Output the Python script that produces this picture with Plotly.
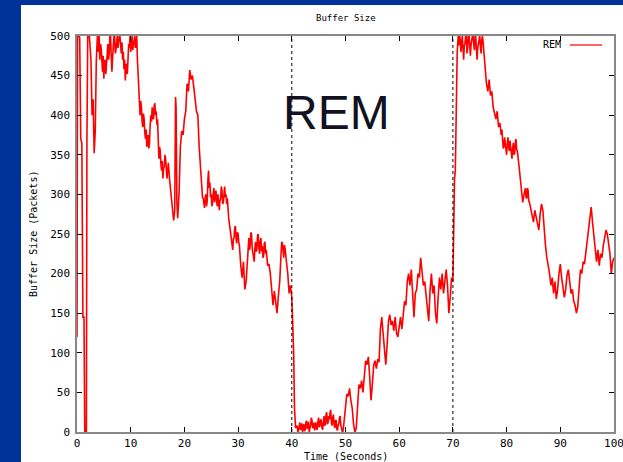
import plotly.graph_objects as go

# ---- data: (time [s], buffer size [packets]) ----
startup = [
    (0, 120), (0.1, 500), (0.3, 500), (0.5, 498), (0.7, 370), (0.9, 365), (1.1, 145), (1.3, 145),
    (1.45, 0), (1.55, 0), (1.75, 0), (1.85, 370), (2.0, 500), (2.3, 500), (2.6, 470), (2.8, 400),
    (3.0, 420), (3.2, 352), (3.4, 380), (3.6, 470), (3.8, 500),
]
plateau_1 = [
    (4.0, 480), (4.125, 500), (4.25, 470), (4.375, 490), (4.5, 485), (4.625, 462), (4.75, 455),
    (4.875, 475), (5.0, 446), (5.125, 468), (5.25, 470), (5.375, 452), (5.5, 462), (5.625, 480),
    (5.75, 490), (5.875, 470), (6.0, 478), (6.125, 500), (6.25, 500), (6.375, 475), (6.5, 455),
    (6.625, 472), (6.75, 488), (6.875, 500), (7.0, 500), (7.125, 478), (7.25, 482), (7.375, 500),
    (7.5, 500), (7.625, 485), (7.75, 493), (7.875, 500), (8.0, 500), (8.125, 488), (8.25, 478),
    (8.375, 492), (8.5, 470), (8.625, 480), (8.75, 458), (8.875, 470), (9.0, 444), (9.125, 462),
    (9.25, 465), (9.375, 452), (9.5, 472), (9.625, 490), (9.75, 485), (9.875, 500), (10.0, 480),
    (10.125, 495), (10.25, 500), (10.375, 482), (10.5, 488), (10.625, 500), (10.75, 500),
    (10.875, 485), (11.0, 492), (11.125, 500), (11.25, 470),
]
decline_1 = [
    (11.5, 435), (11.625, 412), (11.75, 400), (11.875, 418), (12.0, 410), (12.125, 392), (12.25, 385),
    (12.375, 402), (12.5, 395), (12.625, 378), (12.75, 370), (12.875, 382), (13.0, 360), (13.125, 372),
    (13.25, 375), (13.375, 358), (13.5, 365), (13.625, 388), (13.75, 400), (13.875, 392), (14.0, 410),
    (14.125, 398), (14.25, 395), (14.375, 412), (14.5, 415), (14.625, 400), (14.75, 405), (14.875, 388),
    (15.0, 395), (15.125, 370), (15.25, 345), (15.375, 360), (15.5, 355), (15.625, 338), (15.75, 330),
    (15.875, 342), (16.0, 320), (16.125, 332), (16.25, 335), (16.375, 350), (16.5, 345),
    (16.75, 320), (17.0, 340), (17.25, 318), (17.5, 300), (17.75, 275), (18.0, 267), (18.2, 280),
    (18.35, 423), (18.45, 410), (18.6, 290), (18.75, 270), (19.0, 300), (19.25, 360), (19.5, 380),
    (19.75, 375), (20.0, 395), (20.25, 405), (20.5, 440), (20.75, 430), (21.0, 457), (21.25, 445),
    (21.5, 450), (21.75, 430), (22.0, 420), (22.25, 405), (22.5, 400),
]
decline_2 = [
    (22.75, 360), (23.0, 330), (23.125, 318), (23.25, 310), (23.375, 296), (23.5, 295), (23.625, 286),
    (23.75, 283), (23.875, 296), (24.0, 300), (24.125, 285), (24.25, 292), (24.375, 318), (24.5, 330),
    (24.625, 308), (24.75, 315), (24.875, 296), (25.0, 300), (25.125, 285), (25.25, 290), (25.375, 302),
    (25.5, 308), (25.625, 290), (25.75, 295), (25.875, 305), (26.0, 292), (26.125, 285), (26.25, 300),
    (26.375, 288), (26.5, 280), (26.625, 292), (26.75, 295), (26.875, 310), (27.0, 305), (27.125, 288),
    (27.25, 290), (27.375, 300), (27.5, 310), (27.625, 296), (27.75, 300), (27.875, 288), (28.0, 295),
    (28.25, 270), (28.5, 255), (28.75, 240), (29.0, 230), (29.125, 244), (29.25, 245), (29.375, 258),
    (29.5, 260), (29.625, 244), (29.75, 238), (29.875, 252), (30.0, 250), (30.125, 240), (30.25, 235),
    (30.5, 210), (30.75, 195), (31.0, 215), (31.25, 180), (31.5, 190), (31.75, 220), (32.0, 245),
    (32.125, 230), (32.25, 235), (32.375, 252), (32.5, 250), (32.625, 232), (32.75, 225), (33.0, 215),
    (33.125, 232), (33.25, 240), (33.375, 228), (33.5, 230), (33.625, 248), (33.75, 250), (33.875, 232),
    (34.0, 225), (34.125, 240), (34.25, 245), (34.375, 228), (34.5, 235), (34.625, 220), (34.75, 222),
    (34.875, 238), (35.0, 240), (35.125, 225), (35.25, 230), (35.5, 210), (35.75, 212), (36.0, 200),
    (36.25, 175), (36.5, 160), (36.75, 178), (37.0, 165), (37.25, 150), (37.5, 172), (37.75, 190),
    (38.0, 225), (38.125, 240), (38.25, 238), (38.375, 222), (38.5, 220), (38.625, 236), (38.75, 232),
    (39.0, 215), (39.25, 200), (39.5, 175), (39.75, 185), (40.0, 170), (40.1, 145), (40.2, 140),
    (40.35, 100), (40.5, 30), (40.7, 5),
]
empty_queue = [
    (41.0, 8), (41.125, 0), (41.25, 2), (41.375, 9), (41.5, 12), (41.625, 3), (41.75, 4), (41.875, 11),
    (42.0, 0), (42.125, 6), (42.25, 10), (42.375, 1), (42.5, 3), (42.625, 12), (42.75, 14), (42.875, 4),
    (43.0, 5), (43.125, 13), (43.25, 0), (43.375, 5), (43.5, 8), (43.625, 18), (43.75, 15), (43.875, 5),
    (44.0, 6), (44.125, 12), (44.25, 2), (44.375, 8), (44.5, 12), (44.625, 3), (44.75, 4), (44.875, 14),
    (45.0, 18), (45.125, 6), (45.25, 8), (45.375, 16), (45.5, 14), (45.625, 5), (45.75, 3), (45.875, 12),
    (46.0, 20), (46.125, 8), (46.25, 10), (46.375, 22), (46.5, 25), (46.625, 10), (46.75, 12),
    (46.875, 20), (47.0, 16), (47.125, 24), (47.25, 28), (47.375, 12), (47.5, 8), (47.625, 18),
    (47.75, 22), (47.875, 10), (48.0, 5), (48.125, 14), (48.25, 15), (48.375, 4), (48.5, 2), (48.625, 9),
    (48.75, 10), (48.875, 18), (49.0, 20), (49.125, 8), (49.25, 6), (49.375, 1), (49.5, 0), (49.625, 6),
    (49.75, 15), (49.875, 25), (50.0, 35), (50.25, 48), (50.5, 45), (50.75, 55), (51.0, 40),
    (51.25, 30), (51.5, 10), (51.75, 0), (52.0, 5), (52.25, 40),
]
refill = [
    (52.5, 60), (52.75, 55), (53.0, 65), (53.25, 50), (53.5, 72), (53.75, 90), (54.0, 85), (54.25, 95),
    (54.5, 70), (54.75, 40), (55.0, 60), (55.25, 85), (55.5, 90), (55.75, 80), (56.0, 92), (56.25, 88),
    (56.5, 130), (56.75, 145), (57.0, 125), (57.25, 100), (57.5, 85), (57.75, 110), (58.0, 140),
    (58.25, 148), (58.5, 135), (58.75, 140), (59.0, 128), (59.25, 145), (59.5, 125), (59.75, 120),
    (60.0, 135), (60.25, 145), (60.5, 130), (60.75, 150), (61.0, 165), (61.25, 160), (61.5, 190),
    (61.75, 200), (62.0, 185), (62.25, 205), (62.5, 165), (62.75, 145), (63.0, 175), (63.25, 180),
    (63.5, 200), (63.75, 195), (64.0, 220), (64.25, 205), (64.5, 185), (64.75, 190), (65.0, 175),
    (65.25, 160), (65.5, 140), (65.75, 180), (66.0, 200), (66.25, 175), (66.5, 185), (66.75, 150),
    (67.0, 137), (67.25, 170), (67.5, 195), (67.75, 180), (68.0, 200), (68.25, 175), (68.5, 190),
    (68.75, 205), (69.0, 185), (69.25, 150), (69.5, 170), (69.75, 195), (70.0, 190), (70.1, 240),
    (70.2, 250), (70.3, 320), (70.45, 330), (70.6, 430), (70.8, 480),
]
plateau_2 = [
    (71.0, 500), (71.125, 488), (71.25, 500), (71.375, 495), (71.5, 480), (71.625, 500), (71.75, 500),
    (71.875, 485), (72.0, 470), (72.125, 488), (72.25, 490), (72.375, 500), (72.5, 500), (72.625, 478),
    (72.75, 485), (72.875, 500), (73.0, 500), (73.125, 490), (73.25, 475), (73.375, 488), (73.5, 495),
    (73.625, 500), (73.75, 500), (73.875, 488), (74.0, 482), (74.125, 500), (74.25, 500), (74.375, 484),
    (74.5, 470), (74.625, 485), (74.75, 490), (74.875, 500), (75.0, 500), (75.125, 486), (75.25, 478),
    (75.375, 495), (75.5, 500), (75.625, 492), (75.75, 480),
]
decline_3 = [
    (76.0, 455), (76.25, 440), (76.5, 430), (76.75, 445), (77.0, 425), (77.25, 430), (77.5, 410),
    (77.75, 400), (78.0, 395), (78.25, 405), (78.5, 385), (78.75, 390), (79.0, 375), (79.125, 382),
    (79.25, 370), (79.375, 358), (79.5, 360), (79.625, 372), (79.75, 365), (79.875, 352), (80.0, 350),
    (80.125, 364), (80.25, 372), (80.375, 360), (80.5, 355), (80.625, 368), (80.75, 360), (80.875, 348),
    (81.0, 345), (81.125, 358), (81.25, 365), (81.375, 350), (81.5, 352), (81.625, 366), (81.75, 370),
    (81.875, 356), (82.0, 355), (82.25, 340), (82.5, 325), (82.75, 310), (83.0, 290), (83.25, 300),
    (83.5, 308), (83.625, 296), (83.75, 295), (83.875, 308), (84.0, 305), (84.125, 292), (84.25, 290),
    (84.5, 282), (84.75, 275), (85.0, 265), (85.25, 280), (85.5, 270), (85.75, 262), (86.0, 255),
    (86.25, 275), (86.5, 288), (86.75, 280), (87.0, 255), (87.25, 235), (87.5, 220), (87.75, 212),
]
trough = [
    (88.0, 200), (88.25, 185), (88.5, 195), (88.75, 175), (89.0, 190), (89.25, 168), (89.5, 180),
    (89.75, 200), (90.0, 212), (90.25, 195), (90.5, 185), (90.75, 170), (91.0, 180), (91.25, 198),
    (91.5, 205), (91.75, 190), (92.0, 175), (92.25, 180), (92.5, 165), (92.75, 160), (93.0, 150),
    (93.25, 158), (93.5, 185), (93.75, 205), (94.0, 200), (94.25, 215), (94.5, 212), (94.75, 225),
    (95.0, 240), (95.25, 255), (95.5, 270), (95.75, 284), (96.0, 265), (96.25, 245), (96.5, 225),
    (96.75, 215), (97.0, 230), (97.25, 210), (97.5, 225), (97.75, 220), (98.0, 235), (98.25, 245),
    (98.5, 255), (98.75, 250), (99.0, 240), (99.25, 225), (99.5, 200), (99.75, 215), (100, 220),
]
segments = [startup, plateau_1, decline_1, decline_2, empty_queue, refill, plateau_2, decline_3, trough]
time_s = [t for seg in segments for t, _ in seg]
buffer_pkts = [v for seg in segments for _, v in seg]

x_ticks = [0, 10, 20, 30, 40, 50, 60, 70, 80, 90, 100]
y_ticks = [0, 50, 100, 150, 200, 250, 300, 350, 400, 450, 500]
marker_times = [40, 70]

# ---- geometry helpers (pixel -> paper) ----
W, H = 623, 462
L, R, T, B = 77, 9, 36, 30
PW, PH = W - L - R, H - T - B


def px(x):
    return (x - L) / PW


def py(y):
    return (H - B - y) / PH


MONO = "DejaVu Sans Mono"

fig = go.Figure()
fig.add_trace(go.Scatter(
    x=time_s, y=buffer_pkts, mode="lines", name="REM",
    line=dict(color="#ff0000", width=1.6), showlegend=False,
))

shapes = [
    # white slide panel
    dict(type="rect", xref="paper", yref="paper", x0=px(21), x1=px(630), y0=py(470), y1=py(5),
         fillcolor="white", line=dict(width=0), layer="below"),
]
for t in marker_times:
    shapes.append(dict(type="line", xref="x", yref="paper", x0=t, x1=t, y0=0, y1=1,
                       line=dict(color="black", width=1, dash="dot")))
# legend sample line
shapes.append(dict(type="line", xref="paper", yref="paper", x0=px(570), x1=px(602),
                   y0=py(45), y1=py(45), line=dict(color="#ff0000", width=1.2)))

annotations = [
    dict(text="Buffer Size", xref="paper", yref="paper", x=0.5, y=py(18), yanchor="middle",
         showarrow=False, font=dict(family=MONO, size=9, color="black")),
    dict(text="Time (Seconds)", xref="paper", yref="paper", x=0.5, y=py(456), yanchor="middle",
         showarrow=False, font=dict(family=MONO, size=10, color="black")),
    dict(text="Buffer Size (Packets)", xref="paper", yref="paper", x=px(33), y=0.5, textangle=-90,
         xanchor="center", yanchor="middle", showarrow=False,
         font=dict(family=MONO, size=10, color="black")),
    dict(text="REM", xref="paper", yref="paper", x=px(336), y=py(113), xanchor="center",
         yanchor="middle", showarrow=False,
         font=dict(family="Liberation Sans", size=48, color="#111122")),
    dict(text="REM", xref="paper", yref="paper", x=px(563), y=py(45), xanchor="right",
         yanchor="middle", showarrow=False, font=dict(family=MONO, size=10, color="black")),
]

axis_common = dict(
    showgrid=False, zeroline=False, showline=True, linecolor="#888888", linewidth=1.5,
    mirror="allticks", ticks="inside", ticklen=5, tickcolor="black", tickwidth=1,
    tickfont=dict(family=MONO, size=11, color="black"), ticklabeloverflow="allow",
)

fig.update_layout(
    width=W, height=H,
    margin=dict(l=L, r=R, t=T, b=B, autoexpand=False),
    paper_bgcolor="#003399", plot_bgcolor="white",
    shapes=shapes, annotations=annotations,
    xaxis=dict(range=[0, 100], tickvals=x_ticks, ticktext=[str(v) for v in x_ticks], **axis_common),
    yaxis=dict(range=[0, 500], tickvals=y_ticks, ticktext=[str(v) for v in y_ticks],
               ticklabelstandoff=3, **axis_common),
)

fig.write_html(
    "out.html",
    config={"displayModeBar": False},
    post_script="document.body.style.margin='0';document.body.style.overflow='hidden';",
)
